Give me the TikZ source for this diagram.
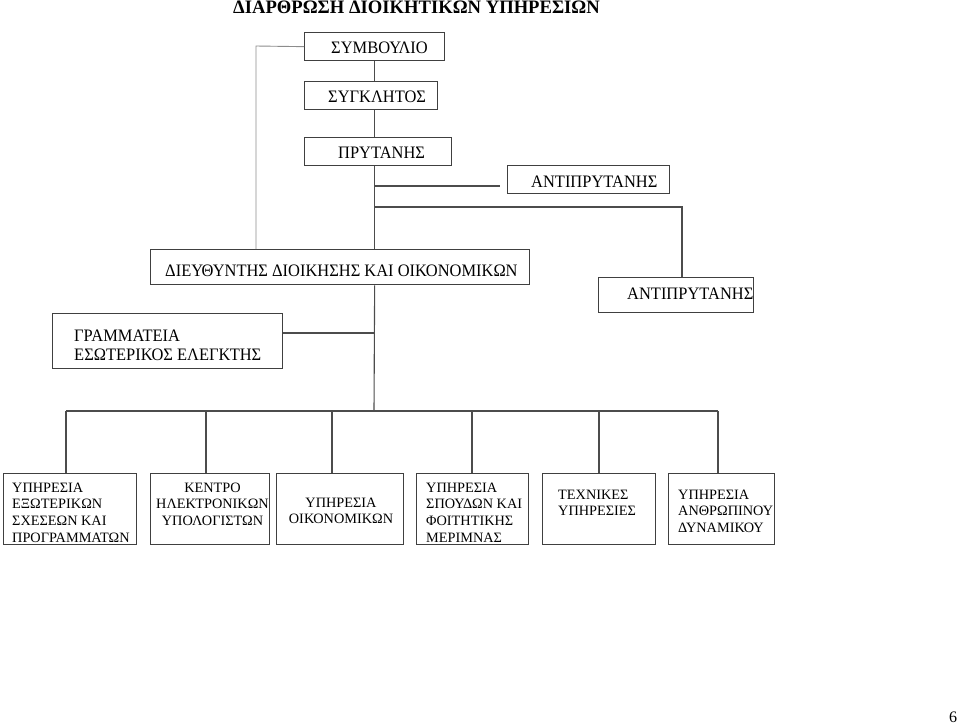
\documentclass[tikz,border=0pt]{standalone}
\usepackage{fontspec}
\setmainfont{Liberation Serif}
\newfontfamily\topfont{Liberation Serif}[FakeStretch=0.94]
\newfontfamily\titlefont{Liberation Serif}[FakeStretch=0.98]
\begin{document}
\begin{tikzpicture}[x=1pt,y=-1pt,
  box/.style={draw=black!75, line width=1.3pt, inner sep=0pt, anchor=north west},
  conn/.style={draw=black!70, line width=1.1pt},
  thin conn/.style={draw=black!45, line width=0.9pt},
  ttop/.style={font=\topfont\fontsize{17.5}{19}\selectfont, inner sep=0pt, anchor=base west, align=left},
  tbot/.style={font=\fontsize{14.3}{16.7}\selectfont, inner sep=0pt, anchor=north west, align=left}]
\useasboundingbox (0,0) rectangle (960,724);

% title and page number
\node[font=\titlefont\bfseries\fontsize{19}{21}\selectfont, anchor=base west, inner sep=0pt] (title) at (233,13) {ΔΙΑΡΘΡΩΣΗ ΔΙΟΙΚΗΤΙΚΩΝ ΥΠΗΡΕΣΙΩΝ};
\node[font=\fontsize{16}{18}\selectfont, anchor=base, inner sep=0pt] (page) at (953,722) {6};

% boxes
\node[box, minimum width=140pt, minimum height=28pt] (symv) at (304,32) {};
\node[box, minimum width=133pt, minimum height=28pt] (sygk) at (304,81) {};
\node[box, minimum width=147pt, minimum height=28pt] (pryt) at (304,137) {};
\node[box, minimum width=162pt, minimum height=28pt] (antip1) at (507,165) {};
\node[box, minimum width=379pt, minimum height=35pt] (dieu) at (150,249) {};
\node[box, minimum width=155pt, minimum height=35pt] (antip2) at (598,277) {};
\node[box, minimum width=230pt, minimum height=55pt] (gram) at (52,313) {};
\node[box, minimum width=133pt, minimum height=71pt] (b1) at (3,473) {};
\node[box, minimum width=119pt, minimum height=71pt] (b2) at (150,473) {};
\node[box, minimum width=127pt, minimum height=71pt] (b3) at (276,473) {};
\node[box, minimum width=112pt, minimum height=71pt] (b4) at (416,473) {};
\node[box, minimum width=113pt, minimum height=71pt] (b5) at (542,473) {};
\node[box, minimum width=106pt, minimum height=71pt] (b6) at (668,473) {};

% texts
\node[ttop] (tsymv) at (331,53) {ΣΥΜΒΟΥΛΙΟ};
\node[ttop] (tsygk) at (328,102) {ΣΥΓΚΛΗΤΟΣ};
\node[ttop] (tpryt) at (338,158) {ΠΡΥΤΑΝΗΣ};
\node[ttop] (tantip1) at (531,187) {ΑΝΤΙΠΡΥΤΑΝΗΣ};
\node[ttop] (tdieu) at (165,276) {ΔΙΕΥΘΥΝΤΗΣ ΔΙΟΙΚΗΣΗΣ ΚΑΙ ΟΙΚΟΝΟΜΙΚΩΝ};
\node[ttop] (tantip2) at (627,299) {ΑΝΤΙΠΡΥΤΑΝΗΣ};
\node[ttop, anchor=north west] (tgram) at (74,329.5) {ΓΡΑΜΜΑΤΕΙΑ\\ΕΣΩΤΕΡΙΚΟΣ ΕΛΕΓΚΤΗΣ};

\node[tbot] (tb1) at (12,482.6) {ΥΠΗΡΕΣΙΑ\\ΕΞΩΤΕΡΙΚΩΝ\\ΣΧΕΣΕΩΝ ΚΑΙ\\ΠΡΟΓΡΑΜΜΑΤΩΝ};
\node[tbot, anchor=north, align=center] (tb2) at (212.5,482.6) {ΚΕΝΤΡΟ\\ΗΛΕΚΤΡΟΝΙΚΩΝ\\ΥΠΟΛΟΓΙΣΤΩΝ};
\node[tbot, anchor=north, align=center, font=\fontsize{14.3}{16}\selectfont] (tb3) at (341,497.6) {ΥΠΗΡΕΣΙΑ\\ΟΙΚΟΝΟΜΙΚΩΝ};
\node[tbot] (tb4) at (426,482.6) {ΥΠΗΡΕΣΙΑ\\ΣΠΟΥΔΩΝ ΚΑΙ\\ΦΟΙΤΗΤΙΚΗΣ\\ΜΕΡΙΜΝΑΣ};
\node[tbot] (tb5) at (558,489.6) {ΤΕΧΝΙΚΕΣ\\ΥΠΗΡΕΣΙΕΣ};
\node[tbot] (tb6) at (678,489.6) {ΥΠΗΡΕΣΙΑ\\ΑΝΘΡΩΠΙΝΟΥ\\ΔΥΝΑΜΙΚΟΥ};

% junction coordinates
\coordinate (lc) at (256,46);
\coordinate (a1j) at (374,186);
\coordinate (a1e) at (500,186);
\coordinate (a2j) at (374,207);
\coordinate (a2c) at (682,207);
\coordinate (gj) at (374,333);
\coordinate (bus) at (374,411);
\coordinate (d1) at (66,411);
\coordinate (d2) at (206,411);
\coordinate (d3) at (332,411);
\coordinate (d4) at (472,411);
\coordinate (d5) at (599,411);
\coordinate (d6) at (718,411);

% connectors
\draw[conn] (symv.south) -- (symv.south |- sygk.north);
\draw[conn] (sygk.south -| symv.south) -- (symv.south |- pryt.north);
\draw[conn] (pryt.south -| symv.south) -- (symv.south |- dieu.north);
\draw[conn] (dieu.south -| symv.south) -- (bus);
\draw[conn] (a1j) -- (a1e);
\draw[conn] (a2j) -- (a2c) -- (a2c |- antip2.north);
\draw[conn] (gj) -- (gj -| gram.east);
\draw[thin conn] (symv.west) -- (lc) -- (lc |- dieu.north);
\draw[conn] (d1) -- (d6);
\draw[conn] (d1) -- (d1 |- b1.north);
\draw[conn] (d2) -- (d2 |- b2.north);
\draw[conn] (d3) -- (d3 |- b3.north);
\draw[conn] (d4) -- (d4 |- b4.north);
\draw[conn] (d5) -- (d5 |- b5.north);
\draw[conn] (d6) -- (d6 |- b6.north);
\end{tikzpicture}
\end{document}
